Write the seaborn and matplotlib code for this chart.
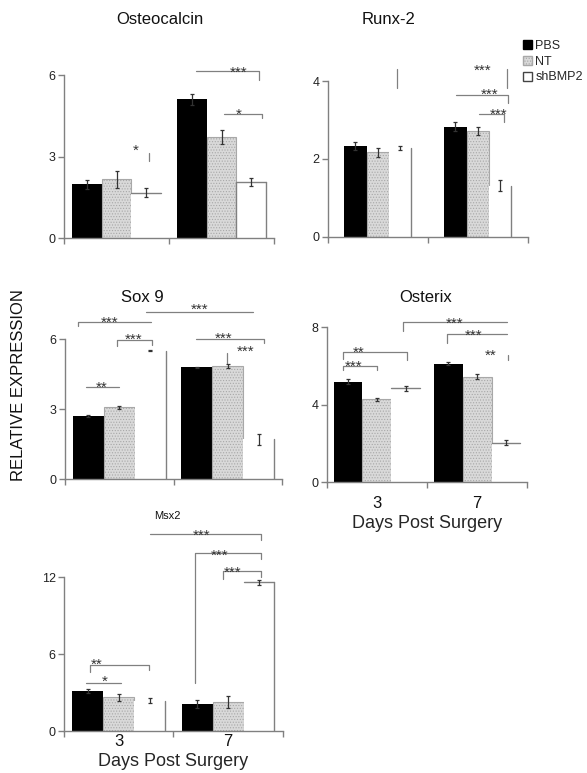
import numpy as np
import pandas as pd
import matplotlib
matplotlib.use("Agg")
import matplotlib.pyplot as plt
import seaborn as sns
from matplotlib.patches import Patch

# ---- data ----
days = ["3", "7"]
groups = ["PBS", "NT", "shBMP2"]

# rows: PBS, NT, shBMP2 / columns: day 3, day 7
ocn_mean = [[1.98, 5.10], [2.17, 3.72], [1.68, 2.06]]
ocn_err = [[0.16, 0.22], [0.32, 0.26], [0.15, 0.15]]

runx_mean = [[2.33, 2.83], [2.17, 2.72], [2.28, 1.31]]
runx_err = [[0.11, 0.11], [0.11, 0.11], [0.06, 0.14]]

sox_mean = [[2.70, 4.79], [3.07, 4.84], [5.50, 1.71]]
sox_err = [[0.05, 0.03], [0.08, 0.09], [0.03, 0.24]]

osx_mean = [[5.20, 6.11], [4.29, 5.46], [4.85, 2.05]]
osx_err = [[0.14, 0.08], [0.07, 0.13], [0.13, 0.15]]

msx_mean = [[3.13, 2.11], [2.63, 2.24], [2.37, 11.61]]
msx_err = [[0.16, 0.33], [0.29, 0.48], [0.20, 0.20]]

# significance marks: x1, x2, y, left drop, right drop, label, label x, label y
ocn_sig = [(0.31, 0.31, 3.13, 0.29, 0, "*", 0.18, 3.39),
           (0.76, 1.36, 6.15, 0, 0.33, "***", 1.16, 6.26),
           (1.02, 1.39, 4.56, 0, 0.15, "*", 1.16, 4.72)]
runx_sig = [(0.19, 0.19, 4.31, 0.49, 0, "", 0, 0),
            (1.29, 1.29, 4.31, 0.49, 0, "***", 1.05, 4.39),
            (0.78, 1.30, 3.64, 0, 0.21, "***", 1.12, 3.77),
            (1.01, 1.26, 3.15, 0, 0.21, "***", 1.21, 3.26)]
sox_sig = [(-0.38, 0.29, 6.73, 0.17, 0, "***", -0.09, 6.90),
           (0.25, 1.23, 7.16, 0, 0, "***", 0.74, 7.46),
           (-0.02, 0.30, 5.96, 0.26, 0.21, "***", 0.13, 6.17),
           (-0.31, 0.00, 3.94, 0, 0, "**", -0.16, 4.11),
           (0.71, 1.33, 6.00, 0, 0.17, "***", 0.96, 6.21),
           (0.99, 0.99, 5.40, 0.43, 0, "***", 1.16, 5.66)]
osx_sig = [(-0.34, 0.30, 6.73, 0.36, 0.41, "**", -0.18, 6.93),
           (-0.34, 0.00, 6.00, 0.21, 0.21, "***", -0.23, 6.21),
           (0.26, 1.30, 8.27, 0.46, 0, "***", 0.78, 8.44),
           (0.70, 1.30, 7.66, 0.46, 0, "***", 0.96, 7.81),
           (1.31, 1.31, 6.57, 0.26, 0, "**", 1.13, 6.78)]
msx_sig = [(0.29, 1.30, 15.38, 0, 0.47, "***", 0.76, 15.61),
           (0.70, 1.30, 13.90, 10.15, 0.47, "***", 0.92, 14.05),
           (0.95, 1.30, 12.49, 0.62, 0.47, "***", 1.04, 12.72),
           (-0.26, 0.28, 5.15, 0.55, 0.39, "**", -0.20, 5.54),
           (-0.30, 0.02, 3.75, 0, 0, "*", -0.13, 4.20)]

W, H = 587, 773
bar_colors = {"PBS": "black", "NT": "#d9d9d9", "shBMP2": "white"}
line_color = "#808080"
star_size = 11


def fig_xy(px, py):
    return px / W, 1 - py / H


def draw_panel(fig, rect, title, title_xy, title_size, mean, err, width,
               ymax, yticks, white_edges, sig, bottom=None):
    l, t, r, b = rect
    ax = fig.add_axes([l / W, 1 - b / H, (r - l) / W, (b - t) / H])
    df = pd.DataFrame({"day": days * 3,
                       "group": np.repeat(groups, 2),
                       "value": np.ravel(mean)})
    sns.barplot(data=df, x="day", y="value", hue="group", order=days,
                hue_order=groups, palette=bar_colors, width=width,
                saturation=1, errorbar=None, legend=False, ax=ax)
    bars = list(ax.containers)

    # bar styling
    for bar in bars[0]:
        bar.set_linewidth(0)
    for bar in bars[1]:
        bar.set_edgecolor("#a8a8a8")
        bar.set_linewidth(0.8)
        bar.set_hatch("......")
    for bar, edges in zip(bars[2], white_edges):
        bar.set_edgecolor("none")
        x0, w, h = bar.get_x(), bar.get_width(), bar.get_height()
        if "T" in edges:
            ax.plot([x0, x0 + w], [h, h], color=line_color, lw=1)
        if "R" in edges:
            ax.plot([x0 + w, x0 + w], [0, h], color=line_color, lw=1)
        if "L" in edges:
            ax.plot([x0, x0], [0, h], color=line_color, lw=1)

    # error bars
    for g, cont in enumerate(bars):
        for d, bar in enumerate(cont):
            cx = bar.get_x() + bar.get_width() / 2
            ax.errorbar(cx, bar.get_height(), yerr=err[g][d], fmt="none",
                        ecolor="#333333", elinewidth=0.9, capsize=1.6,
                        capthick=0.9, zorder=4)

    # significance brackets
    for x1, x2, y, dl, dr, label, lx, ly in sig:
        xs, ys = [x1, x2], [y, y]
        if dl:
            xs, ys = [x1] + xs, [y - dl] + ys
        if dr:
            xs, ys = xs + [x2], ys + [y - dr]
        ax.plot(xs, ys, color=line_color, lw=0.9, clip_on=False)
        if label:
            ax.annotate(label, (lx, ly), xytext=(0, -0.58 * star_size),
                        textcoords="offset points", ha="center", va="baseline",
                        fontsize=star_size, color="#333333",
                        annotation_clip=False)

    ax.set_xlim(-0.5, 1.5)
    ax.set_ylim(0, ymax)
    ax.set_yticks(yticks)
    ax.set_xticks([-0.5, 0.5, 1.5], minor=True)
    ax.tick_params(axis="x", which="minor", length=4, width=1, color=line_color)
    ax.tick_params(axis="y", length=4, width=1, color=line_color,
                   labelsize=9, labelcolor="#222222", pad=2)
    ax.set_ylabel("")
    if bottom is not None:
        pad, lpad = bottom
        ax.set_xticks([0, 1], days)
        ax.tick_params(axis="x", which="major", length=0, labelsize=12,
                       labelcolor="#111111", pad=pad)
        ax.set_xlabel("Days Post Surgery", fontsize=13, labelpad=lpad)
    else:
        ax.set_xticks([0, 1], ["", ""])
        ax.tick_params(axis="x", which="major", length=0)
        ax.set_xlabel("")
    sns.despine(ax=ax)
    for s in ("left", "bottom"):
        ax.spines[s].set_color(line_color)
        ax.spines[s].set_linewidth(1)

    tx, ty = fig_xy(*title_xy)
    fig.text(tx, ty, title, ha="center", va="baseline", fontsize=title_size,
             color="#111111")
    return ax


sns.set_style("ticks")
plt.rcParams["font.family"] = ["Liberation Sans", "DejaVu Sans"]
plt.rcParams["hatch.linewidth"] = 0.5

fig = plt.figure(figsize=(W / 100, H / 100), dpi=100)

draw_panel(fig, (64, 75, 274, 238.3), "Osteocalcin", (160, 24), 12,
           ocn_mean, ocn_err, 0.857, 6, [0, 3, 6], ["T", "TRL"], ocn_sig)
draw_panel(fig, (327.7, 81, 527.7, 236.7), "Runx-2", (389, 24), 12,
           runx_mean, runx_err, 0.67, 4, [0, 2, 4], ["R", "R"], runx_sig)
draw_panel(fig, (65, 339, 282, 479), "Sox 9", (142, 302), 12,
           sox_mean, sox_err, 0.86, 6, [0, 3, 6], ["R", "R"], sox_sig)
draw_panel(fig, (326.7, 327.3, 527.3, 482.3), "Osterix", (426, 302), 12,
           osx_mean, osx_err, 0.86, 8, [0, 4, 8], ["T", "T"], osx_sig,
           bottom=(10, 3))
draw_panel(fig, (64, 577.3, 282.7, 731), "Msx2", (167, 519), 8,
           msx_mean, msx_err, 0.85, 12, [0, 6, 12], ["R", "TR"], msx_sig,
           bottom=(2, 3))

lx, ly = fig_xy(18.5, 385)
fig.text(lx, ly, "RELATIVE EXPRESSION", rotation=90, ha="center", va="center",
         fontsize=12, color="#111111")

handles = [Patch(facecolor="black", edgecolor="black"),
           Patch(facecolor="#d9d9d9", edgecolor="#a8a8a8", hatch="......"),
           Patch(facecolor="white", edgecolor="#444444")]
fig.legend(handles, groups, loc="upper left", bbox_to_anchor=fig_xy(523, 40),
           frameon=False, fontsize=9, handlelength=0.75, handleheight=0.75,
           handletextpad=0.25, labelspacing=0.3, borderpad=0, borderaxespad=0)

fig.savefig("out.png", dpi=100)
